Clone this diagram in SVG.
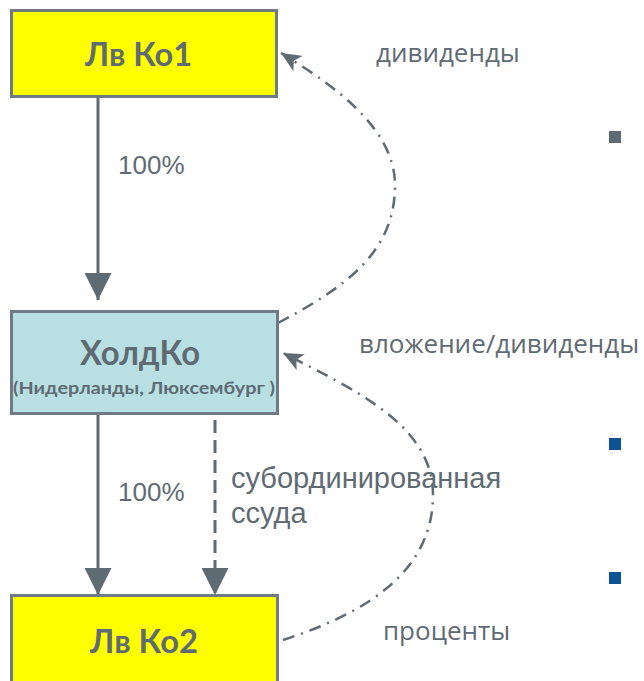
<svg xmlns="http://www.w3.org/2000/svg" width="644" height="681" viewBox="0 0 644 681">
<defs>
<style>
.box{stroke:#6e7b84;stroke-width:3}
.yel{fill:#ffff00}
.blu{fill:#b8e0e3}
.t{fill:#5f6b73;font-family:Lato,"Open Sans","Liberation Sans",sans-serif;font-weight:bold}
.lbl{fill:#5f6b73;font-family:"Open Sans","Liberation Sans",sans-serif;font-size:26px}
.ar{fill:#5f6b73;font-family:"Liberation Sans",Arial,sans-serif}
.ln{stroke:#5f6b73;stroke-width:3;fill:none}
.dd{stroke:#5f6b73;stroke-width:2.5;fill:none;stroke-dasharray:12 7 2 7}
</style>
<marker id="tri" viewBox="0 0 27 27" refX="27" refY="13.5" markerWidth="27" markerHeight="27" markerUnits="userSpaceOnUse" orient="auto">
<path d="M0,0 L27,13.5 L0,27 Z" fill="#5f6b73"/>
</marker>
<marker id="sm" viewBox="0 0 20 18" refX="20" refY="9" markerWidth="20" markerHeight="18" markerUnits="userSpaceOnUse" orient="auto">
<path d="M0,0 L20,9 L0,18 L5,9 Z" fill="#5f6b73"/>
</marker>
</defs>
<rect width="644" height="681" fill="#ffffff"/>
<g id="connectors">
<line class="ln" x1="98" y1="97" x2="98" y2="300" marker-end="url(#tri)"/>
<line class="ln" x1="98" y1="414" x2="98" y2="595" marker-end="url(#tri)"/>
<line class="ln" x1="215" y1="420" x2="215" y2="595" stroke-dasharray="13 7" marker-end="url(#tri)"/>
<path class="dd" d="M278,323 C350,285 395,250 395,185 C395,125 325,80 281,53" marker-end="url(#sm)"/>
<path class="dd" d="M283,640 C360,615 433,575 433,495 C433,425 355,390 283,353" marker-end="url(#sm)"/>
</g>
<g id="lvko1">
<rect class="box yel" x="11.5" y="10.5" width="265" height="86"/>
<text class="t" x="85" y="66" font-size="32" textLength="107" lengthAdjust="spacingAndGlyphs">Лв Ко1</text>
</g>
<g id="holdko">
<rect class="box blu" x="11.5" y="311.5" width="266" height="102"/>
<text class="t" x="80" y="365" font-size="34" textLength="120" lengthAdjust="spacingAndGlyphs">ХолдКо</text>
<text class="t" x="13" y="394" font-size="17" textLength="262" lengthAdjust="spacingAndGlyphs">(Нидерланды, Люксембург )</text>
</g>
<g id="lvko2">
<rect class="box yel" x="11.5" y="595.5" width="266" height="92"/>
<text class="t" x="90" y="653" font-size="32" textLength="108" lengthAdjust="spacingAndGlyphs">Лв Ко2</text>
</g>
<g id="labels">
<text class="ar" x="118" y="174" font-size="26">100%</text>
<text class="ar" x="118" y="501" font-size="26">100%</text>
<text class="ar" x="231" y="488" font-size="29">субординированная</text>
<text class="ar" x="231" y="523" font-size="29">ссуда</text>
<text class="lbl" x="376" y="62">дивиденды</text>
<text class="lbl" x="359" y="353">вложение/дивиденды</text>
<text class="lbl" x="383" y="640">проценты</text>
</g>
<g id="bullets">
<rect x="609" y="131" width="12" height="12" fill="#5f6b73"/>
<rect x="609" y="438" width="12" height="12" fill="#0b5394"/>
<rect x="609" y="572" width="12" height="12" fill="#0b5394"/>
</g>
</svg>
